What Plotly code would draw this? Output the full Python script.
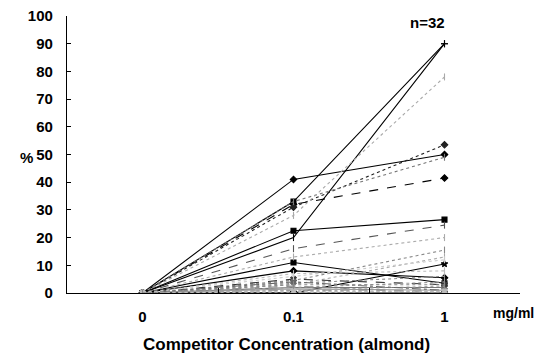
import plotly.graph_objects as go

x_labels = ["0", "0.1", "1"]

# value of each of the 32 samples at each competitor concentration
at_0 = [0] * 32
at_0_1 = [20, 33, 41, 32, 31, 33, 28, 22.5, 16, 11, 8, 0, 4.5, 3, 5, 3.5,
          2, 1.5, 1, 0.5, 0, 2.5, 1, 4, 2, 0, 13, 7, 6, 1, 0.5, 3]
at_1 = [90, 90, 50, 41.5, 53.5, 49, 78, 26.5, 24.5, 3.5, 5.5, 10.5, 15.5, 13, 3, 6,
        2, 1, 0.5, 0, 0, 0, 2.5, 1, 4, 1, 20, 8, 12, 1, 0.5, 3]

colors = ["#000", "#000", "#000", "#000", "#222", "#777", "#aaa", "#000", "#555", "#000",
          "#000", "#000", "#888", "#aaa", "#333", "#888", "#777", "#999", "#aaa", "#bbb",
          "#000", "#888", "#aaa", "#666", "#999", "#bbb", "#aaa", "#bbb", "#ccc", "#999",
          "#bbb", "#888"]
dashes = ["solid", "solid", "solid", "dash", "dot", "dot", "dot", "solid", "dash", "solid",
          "solid", "solid", "dot", "dot", "dash", "dot", "solid", "solid", "dot", "dot",
          "solid", "dash", "dot", "dashdot", "dot", "dot", "dot", "dot", "dot", "dash",
          "dot", "dot"]
symbols = ["line-ns", "square", "diamond", "diamond", "diamond", "line-ns", "line-ns",
           "square", "line-ns", "square", "diamond", "star", "line-ns", "line-ns", "x", "line-ns",
           "line-ns", "line-ns", "line-ns", "x", "star", "line-ns", "line-ns", "x", "line-ns",
           "line-ns", "line-ns", "line-ns", "line-ns", "line-ns", "x", "line-ns"]

font = "Liberation Sans, Arial, sans-serif"

fig = go.Figure()
for i in range(32):
    sym = [symbols[i]] * 3
    if at_1[i] >= 90:
        sym[2] = "cross-thin"
    fig.add_trace(go.Scatter(
        x=x_labels, y=[at_0[i], at_0_1[i], at_1[i]],
        mode="lines+markers",
        line=dict(color=colors[i], width=1.1, dash=dashes[i]),
        marker=dict(symbol=sym, size=5, color=colors[i],
                    line=dict(color=colors[i], width=1.1)),
        showlegend=False, hoverinfo="skip"))

fig.update_layout(
    width=537, height=353,
    margin=dict(l=59, r=25, t=8, b=68, autoexpand=False),
    paper_bgcolor="white", plot_bgcolor="white",
    font=dict(family=font, size=14, color="black", weight="bold"),
    xaxis=dict(type="category", categoryorder="array", categoryarray=x_labels,
               range=[-0.5, 2.5], tickson="boundaries", ticks="inside", ticklen=5,
               tickcolor="black", showline=True, linecolor="black", linewidth=1.2,
               showgrid=False, zeroline=False, ticklabelstandoff=10, automargin=False,
               ticklabeloverflow="allow",
               tickfont=dict(family=font, size=15, weight="bold")),
    yaxis=dict(range=[0, 100], dtick=10, ticks="inside", ticklen=4, tickcolor="black",
               showline=True, linecolor="black", linewidth=1.2, showgrid=False,
               zeroline=False, ticklabelstandoff=10, automargin=False,
               ticklabeloverflow="allow",
               tickfont=dict(family=font, size=15, weight="bold")),
    annotations=[
        dict(text="n=32", xref="paper", yref="paper", x=0.795, y=0.975,
             xanchor="center", yanchor="middle", showarrow=False,
             font=dict(family=font, size=15, weight="bold")),
        dict(text="mg/ml", xref="paper", yref="paper", x=0.985, y=-0.072,
             xanchor="center", yanchor="middle", showarrow=False,
             font=dict(family=font, size=14, weight="bold")),
        dict(text="%", xref="paper", yref="paper", x=-0.09, y=0.49,
             xanchor="center", yanchor="middle", showarrow=False,
             font=dict(family=font, size=15, weight="bold")),
        dict(text="Competitor Concentration (almond)", xref="paper", yref="paper",
             x=0.485, y=-0.187, xanchor="center", yanchor="middle", showarrow=False,
             font=dict(family=font, size=17, weight="bold")),
    ],
)

fig.write_html("out.html")
